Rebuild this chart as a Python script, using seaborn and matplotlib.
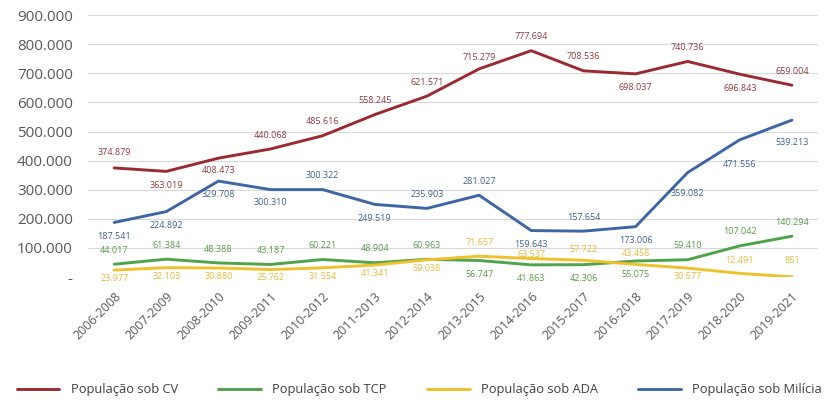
import pandas as pd
import numpy as np
import matplotlib.pyplot as plt
import seaborn as sns
from matplotlib.ticker import FuncFormatter

# Data
periodos = ["2006-2008", "2007-2009", "2008-2010", "2009-2011", "2010-2012", "2011-2013", "2012-2014",
            "2013-2015", "2014-2016", "2015-2017", "2016-2018", "2017-2019", "2018-2020", "2019-2021"]
cv = [374879, 363019, 408473, 440068, 485616, 558245, 621571, 715279, 777694, 708536, 698037, 740736, 696843, 659004]
tcp = [44017, 61384, 48388, 43187, 60221, 48904, 60963, 56747, 41863, 42306, 55075, 59410, 107042, 140294]
ada = [23977, 32103, 30880, 25762, 31554, 41341, 59038, 71657, 63537, 57722, 43458, 30577, 12491, 851]
milicia = [187541, 224892, 329708, 300310, 300322, 249519, 235903, 281027, 159643, 157654, 173006, 359082, 471556, 539213]

series = ["População sob CV", "População sob TCP", "População sob ADA", "População sob Milícia"]
line_colors = ["#9b2a30", "#4ea44a", "#f0c12c", "#3e66a6"]
label_colors = ["#8e3a40", "#5a9a48", "#e9b93a", "#3f5f8f"]

# label above (+) or below (-) the point, as a multiple of the base offset
cv_side = [1.1, -1, -0.9, 1, 1, 1, 1, 0.8, 1, 1, -1, 1, -1, 1]
tcp_side = [1, 1, 1, 1, 1, 1, 1, -1, -1, -1, -1, 1, 1, 1]
ada_side = [-0.6, -0.6, -0.6, -0.6, -0.6, -0.6, -0.6, 1, 0.3, 0.8, 0.8, -0.6, 0.9, 1.2]
mil_side = [-1, -1, -1, -0.9, 1, -1, 1, 1, -1, 1, -1, -1.5, -1.8, -1.6]

df = pd.DataFrame({"periodo": periodos, series[0]: cv, series[1]: tcp,
                   series[2]: ada, series[3]: milicia})
long = df.melt(id_vars="periodo", var_name="serie", value_name="pop")

sns.set_style("white")
plt.rcParams["font.family"] = ["Open Sans", "DejaVu Sans"]

fig = plt.figure(figsize=(8.39, 4.08), dpi=100)
ax = fig.add_axes([0.105, 0.321, 0.87, 0.642])

sns.lineplot(data=long, x="periodo", y="pop", hue="serie", hue_order=series,
             palette=line_colors, linewidth=2.1, ax=ax, sort=False)

def fmt(v):
    return f"{v:,.0f}".replace(",", ".")

for vals, sides, col in zip([cv, tcp, ada, milicia], [cv_side, tcp_side, ada_side, mil_side], label_colors):
    for i, (v, s) in enumerate(zip(vals, sides)):
        ax.annotate(fmt(v), (i, v), xytext=(0, 10 * s), textcoords="offset points",
                    ha="center", va="center", fontsize=6.5, color=col)

ax.set_ylim(0, 900000)
ax.set_xlim(-0.5, 13.5)
ax.set_yticks(np.arange(0, 900001, 100000))
ax.yaxis.set_major_formatter(FuncFormatter(lambda v, p: "-" if v == 0 else fmt(v)))
ax.grid(axis="y", color="#d9d9d9", linewidth=0.8)
ax.set_axisbelow(True)
for sp in ax.spines.values():
    sp.set_visible(False)
ax.tick_params(axis="y", labelsize=11, colors="#595959", length=0, pad=11)
ax.tick_params(axis="x", labelsize=9, colors="#595959", length=0, pad=9)
plt.setp(ax.get_xticklabels(), rotation=45, ha="right", rotation_mode="anchor")
ax.set_xlabel("")
ax.set_ylabel("")

handles, labels = ax.get_legend_handles_labels()
ax.get_legend().remove()
fig.legend(handles, labels, loc="lower center", bbox_to_anchor=(0.5, 0.0), ncol=4,
           frameon=False, fontsize=9.3, handlelength=3.3, handletextpad=0.9,
           columnspacing=3.1, labelcolor="#404040")

fig.savefig("out.png", dpi=100)
